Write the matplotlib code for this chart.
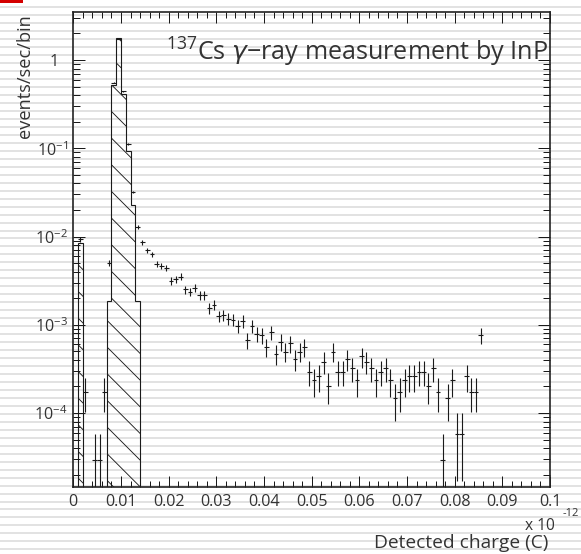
import numpy as np
import matplotlib
matplotlib.use('Agg')
import matplotlib.pyplot as plt
from matplotlib.ticker import FixedLocator, FixedFormatter, LogLocator, NullFormatter
from matplotlib.patches import Rectangle

# ---------------- data ----------------
bin_half_width = 0.0005
rate_per_count = 2.92e-5  # events/sec/bin per recorded count

point_x = [0.0015, 0.0025, 0.0045, 0.0055, 0.0065, 0.0075, 0.0085, 0.0095,
           0.0105, 0.0115, 0.0125, 0.0135, 0.0145, 0.0155, 0.0165, 0.0175,
           0.0185, 0.0195, 0.0205, 0.0215, 0.0225, 0.0235, 0.0245, 0.0255,
           0.0265, 0.0275, 0.0285, 0.0295, 0.0305, 0.0315, 0.0325, 0.0335,
           0.0345, 0.0355, 0.0365, 0.0375, 0.0385, 0.0395, 0.0405, 0.0415,
           0.0425, 0.0435, 0.0445, 0.0455, 0.0465, 0.0475, 0.0485, 0.0495,
           0.0505, 0.0515, 0.0525, 0.0535, 0.0545, 0.0555, 0.0565, 0.0575,
           0.0585, 0.0595, 0.0605, 0.0615, 0.0625, 0.0635, 0.0645, 0.0655,
           0.0665, 0.0675, 0.0685, 0.0695, 0.0705, 0.0715, 0.0725, 0.0735,
           0.0745, 0.0755, 0.0765, 0.0775, 0.0785, 0.0795, 0.0805, 0.0815,
           0.0825, 0.0835, 0.0845, 0.0855]
point_counts = [318, 6, 1, 1, 6, 171, 18940, 59930,
                15070, 3836, 1096, 442, 295, 240, 216, 168,
                158, 151, 108, 113, 120, 86, 81, 89,
                74, 74, 53, 58, 43, 44, 40, 39,
                33, 38, 23, 33, 27, 26, 19, 28,
                16, 22, 17, 21, 14, 17, 19, 10,
                8, 9, 13, 7, 17, 10, 10, 14,
                11, 8, 15, 13, 11, 8, 10, 11,
                8, 5, 6, 8, 9, 9, 10, 10,
                7, 11, 6, 1, 5, 8, 2, 2,
                9, 6, 6, 26]

hatch_edges_low = [0.001, 0.002]
hatch_vals_low = [8.5e-3]
hatch_edges_peak = [0.007, 0.008, 0.009, 0.010, 0.011, 0.012, 0.013, 0.014]
hatch_vals_peak = [1.87e-3, 0.52, 1.76, 0.41, 0.094, 0.0228, 1.87e-3]

x_ticks = [0.0, 0.01, 0.02, 0.03, 0.04, 0.05, 0.06, 0.07, 0.08, 0.09, 0.1]
x_tick_labels = ['0', '0.01', '0.02', '0.03', '0.04', '0.05', '0.06',
                 '0.07', '0.08', '0.09', '0.1']
y_ticks = [1e-4, 1e-3, 1e-2, 1e-1, 1.0]
y_tick_labels = [r'$10^{-4}$', r'$10^{-3}$', r'$10^{-2}$', r'$10^{-1}$', '1  ']

title_text = r'$^{137}$Cs $\gamma$' + '\u2212ray measurement by InP'
y_title = 'events/sec/bin'
x_title = 'Detected charge (C)'

# ---------------- style ----------------
W, H, DPI = 581, 554, 80
plt.rcParams['font.family'] = ['Open Sans', 'DejaVu Sans']
plt.rcParams['mathtext.fontset'] = 'custom'
plt.rcParams['mathtext.rm'] = 'Open Sans'
plt.rcParams['mathtext.it'] = 'DejaVu Sans:italic'
plt.rcParams['hatch.linewidth'] = 0.8
txt = '#333333'
ink = '#1a1a1a'

fig = plt.figure(figsize=(W / DPI, H / DPI), dpi=DPI, facecolor='white')

# background stripes (screen artefact of the reference)
bg = fig.add_axes([0, 0, 1, 1], zorder=-10)
bg.set_xlim(0, W)
bg.set_ylim(H, 0)
bg.axis('off')
for yc in np.arange(23.3 - 2 * 7.97, H + 8, 7.97):
    bg.axhspan(yc - 1.0, yc + 1.0, color='#e2e2e2', lw=0)
bg.add_patch(Rectangle((0, 0), 22.7, 2.5, color='#d40000', lw=0))

left, right, top, bottom = 73.3, 550.0, 12.0, 487.0
ax = fig.add_axes([left / W, 1 - bottom / H, (right - left) / W, (bottom - top) / H])
ax.set_facecolor('none')

ax.set_yscale('log', nonpositive='clip')
ax.set_xlim(0, 0.1)
ax.set_ylim(1.45e-5, 3.5)

# hatched histograms
for edges, vals in ((hatch_edges_low, hatch_vals_low), (hatch_edges_peak, hatch_vals_peak)):
    ax.stairs(vals, edges, baseline=1e-7, fill=True, facecolor='none',
              edgecolor=ink, hatch='\\', linewidth=1.0, zorder=2)

# data points with errors
px = np.array(point_x)
pc = np.array(point_counts, dtype=float)
py = pc * rate_per_count
pe = np.sqrt(pc) * rate_per_count
ax.errorbar(px, py, yerr=pe, xerr=bin_half_width, fmt='none', ecolor=ink,
            elinewidth=1.0, capsize=0, zorder=3)

# ticks
ax.xaxis.set_major_locator(FixedLocator(x_ticks))
ax.xaxis.set_major_formatter(FixedFormatter(x_tick_labels))
ax.xaxis.set_minor_locator(FixedLocator(np.arange(0, 0.1001, 0.002)))
ax.yaxis.set_major_locator(FixedLocator(y_ticks))
ax.yaxis.set_major_formatter(FixedFormatter(y_tick_labels))
ax.yaxis.set_minor_locator(LogLocator(base=10, subs=np.arange(2, 10)))
ax.yaxis.set_minor_formatter(NullFormatter())

ax.tick_params(axis='both', which='both', direction='in', top=True, right=True,
               color=ink, width=0.9, labelcolor=txt)
ax.tick_params(axis='x', which='major', length=10.0, pad=6, labelsize=14.5)
ax.tick_params(axis='x', which='minor', length=5.0)
ax.tick_params(axis='y', which='major', length=10.8, pad=5, labelsize=14.5)
ax.tick_params(axis='y', which='minor', length=6.0)

for sp in ax.spines.values():
    sp.set_linewidth(1.5)
    sp.set_color('#222222')

# texts
ax.text(0.997, 0.915, title_text, transform=ax.transAxes, ha='right', va='center',
        fontsize=22.6, color=txt)
fig.text(25 / W, 1 - 14 / H, y_title, rotation=90, ha='center', va='top',
         fontsize=16.4, color=txt)
fig.text(548 / W, 1 - 543 / H, x_title, ha='right', va='center',
         fontsize=17.2, color=txt)
fig.text(555 / W, 1 - 526 / H, 'x 10', ha='right', va='center',
         fontsize=14, color=txt)
fig.text(563 / W, 1 - 513 / H, '-12', ha='left', va='center',
         fontsize=10, color=txt)

fig.savefig('out.png', dpi=DPI, facecolor='white')
